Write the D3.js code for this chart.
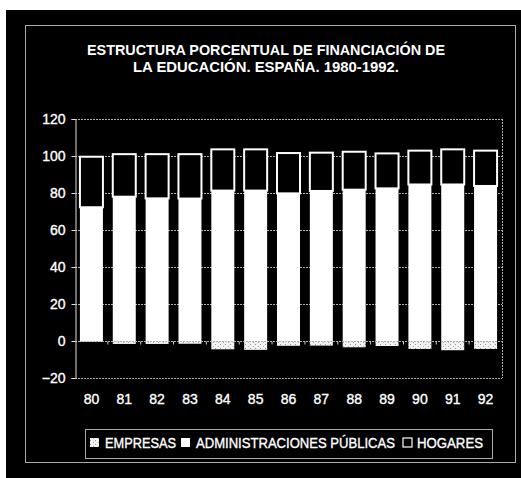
<!DOCTYPE html>
<html>
<head>
<meta charset="utf-8">
<script src="https://cdn.jsdelivr.net/npm/d3@7/dist/d3.min.js"></script>
<style>
  html, body { margin: 0; padding: 0; background: #fff; }
  svg { display: block; }
  text { font-family: "Liberation Sans", Arial, sans-serif; fill: #fff; }
  .thick { stroke: #fff; stroke-width: 0.35px; }
</style>
</head>
<body>
<div id="chart"></div>
<script>
// Años (eje X) y series en porcentaje
const years = ['80', '81', '82', '83', '84', '85', '86', '87', '88', '89', '90', '91', '92'];
const empresas = [-0.5, -1.6, -1.6, -1.5, -4.5, -4.8, -2.6, -2.5, -3.4, -2.7, -4.3, -5.0, -4.3];
const administraciones = [72.3, 78.0, 77.1, 77.0, 81.3, 81.3, 79.8, 81.1, 81.8, 82.5, 84.6, 84.6, 83.8];
const hogares = [27.3, 23.0, 23.9, 24.0, 22.3, 22.3, 21.8, 20.7, 20.5, 18.9, 18.3, 19.0, 19.1];
const yTicks = [-20, 0, 20, 40, 60, 80, 100, 120];
const seriesNames = ['EMPRESAS', 'ADMINISTRACIONES PÚBLICAS', 'HOGARES'];
const titleLines = ['ESTRUCTURA PORCENTUAL DE FINANCIACIÓN DE', 'LA EDUCACIÓN. ESPAÑA. 1980-1992.'];

const W = 521, H = 478;
const plot = { left: 75, right: 502, top: 119, bottom: 378 };

const svg = d3.select('#chart').append('svg')
  .attr('width', W)
  .attr('height', H);

// motivo punteado para EMPRESAS
const defs = svg.append('defs');
const pat = defs.append('pattern')
  .attr('id', 'dots')
  .attr('width', 5).attr('height', 4)
  .attr('patternUnits', 'userSpaceOnUse');
pat.append('rect').attr('width', 5).attr('height', 4).attr('fill', '#f2f2f2');
pat.append('rect').attr('x', 0).attr('y', 0).attr('width', 1).attr('height', 1).attr('fill', '#999');
pat.append('rect').attr('x', 3).attr('y', 2).attr('width', 1).attr('height', 1).attr('fill', '#aaa');

// fondo negro y marco
svg.append('rect')
  .attr('x', 6).attr('y', 10)
  .attr('width', W - 6).attr('height', H - 10)
  .attr('fill', '#000');

svg.append('rect')
  .attr('x', 25.5).attr('y', 25.5)
  .attr('width', 490).attr('height', 437)
  .attr('fill', 'none')
  .attr('stroke', '#aaa')
  .attr('stroke-width', 1);

// título
const titleWidths = [358, 266];
svg.append('g')
  .selectAll('text')
  .data(titleLines)
  .join('text')
  .attr('x', 266)
  .attr('y', (d, i) => 55 + i * 17)
  .attr('text-anchor', 'middle')
  .attr('font-size', 15.5)
  .attr('font-weight', 'bold')
  .attr('textLength', (d, i) => titleWidths[i])
  .attr('lengthAdjust', 'spacingAndGlyphs')
  .text(d => d);

// escalas
const x = d3.scaleBand()
  .domain(years)
  .range([plot.left, plot.right])
  .paddingInner(0.3)
  .paddingOuter(0.15);

const y = d3.scaleLinear()
  .domain([-20, 120])
  .range([plot.bottom, plot.top]);

// cuadrícula punteada
const grid = svg.append('g');
grid.selectAll('line')
  .data(yTicks.filter(d => d !== -20 && d !== 0))
  .join('line')
  .attr('x1', plot.left).attr('x2', plot.right)
  .attr('y1', d => Math.round(y(d)) + 0.5)
  .attr('y2', d => Math.round(y(d)) + 0.5)
  .attr('stroke', '#b0b0b0')
  .attr('stroke-width', 1)
  .attr('stroke-dasharray', '2,1');

// borde derecho e inferior del área de trazado
grid.append('line')
  .attr('x1', plot.right + 0.5).attr('x2', plot.right + 0.5)
  .attr('y1', y(120)).attr('y2', y(-20))
  .attr('stroke', '#b0b0b0')
  .attr('stroke-dasharray', '2,1');
grid.append('line')
  .attr('x1', plot.left).attr('x2', plot.right)
  .attr('y1', Math.round(y(-20)) + 0.5).attr('y2', Math.round(y(-20)) + 0.5)
  .attr('stroke', '#b0b0b0')
  .attr('stroke-dasharray', '2,1');

// datos apilados
const rows = years.map((yr, i) => ({
  year: yr,
  EMPRESAS: empresas[i],
  'ADMINISTRACIONES PÚBLICAS': administraciones[i],
  HOGARES: hogares[i]
}));

const stack = d3.stack()
  .keys(seriesNames)
  .offset(d3.stackOffsetDiverging);
const series = stack(rows);

const fills = {
  'EMPRESAS': 'url(#dots)',
  'ADMINISTRACIONES PÚBLICAS': '#fff',
  'HOGARES': '#000'
};

svg.append('g')
  .selectAll('g')
  .data(series)
  .join('g')
  .attr('fill', d => fills[d.key])
  .attr('stroke', d => d.key === 'HOGARES' ? '#fff' : 'none')
  .attr('stroke-width', 2)
  .selectAll('rect')
  .data(d => d)
  .join('rect')
  .attr('x', d => x(d.data.year))
  .attr('y', d => y(d[1]))
  .attr('width', x.bandwidth())
  .attr('height', d => y(d[0]) - y(d[1]));

// eje X en el cero con marcas entre categorías
const zeroY = Math.round(y(0)) + 0.5;
svg.append('line')
  .attr('x1', plot.left).attr('x2', plot.right)
  .attr('y1', zeroY).attr('y2', zeroY)
  .attr('stroke', '#b0b0b0')
  .attr('stroke-dasharray', '2,1');
svg.append('g')
  .selectAll('line')
  .data(years.slice(1))
  .join('line')
  .attr('x1', d => x(d) - x.step() * x.paddingInner() / 2)
  .attr('x2', d => x(d) - x.step() * x.paddingInner() / 2)
  .attr('y1', zeroY).attr('y2', zeroY + 3)
  .attr('stroke', '#ccc');

// eje Y
const yAxis = svg.append('g')
  .attr('transform', `translate(${plot.left + 0.5},0)`)
  .call(d3.axisLeft(y).tickValues(yTicks).tickSize(4).tickPadding(6).tickFormat(d3.format('d')));
yAxis.select('.domain').attr('stroke', '#ddd');
yAxis.selectAll('.tick line').attr('stroke', '#ddd');
yAxis.selectAll('.tick text')
  .attr('class', 'thick')
  .attr('font-size', 14)
  .attr('fill', '#fff')
  .style('font-family', '"Liberation Sans", Arial, sans-serif');

// etiquetas de años
svg.append('g')
  .selectAll('text')
  .data(years)
  .join('text')
  .attr('class', 'thick')
  .attr('x', d => x(d) + x.bandwidth() / 2)
  .attr('y', 404)
  .attr('text-anchor', 'middle')
  .attr('font-size', 14)
  .text(d => d);

// leyenda
svg.append('rect')
  .attr('x', 85.5).attr('y', 429.5)
  .attr('width', 407).attr('height', 29)
  .attr('fill', 'none')
  .attr('stroke', '#aaa');

const legendItems = [
  { name: seriesNames[0], sx: 90, tx: 105, tw: 71 },
  { name: seriesNames[1], sx: 181, tx: 196, tw: 199 },
  { name: seriesNames[2], sx: 403, tx: 417, tw: 66 }
];
const lg = svg.append('g')
  .selectAll('g')
  .data(legendItems)
  .join('g');
lg.append('rect')
  .attr('x', d => d.sx)
  .attr('y', 438)
  .attr('width', 9).attr('height', 9)
  .attr('fill', d => fills[d.name])
  .attr('stroke', d => d.name === 'HOGARES' ? '#fff' : 'none')
  .attr('stroke-width', 1.2);
lg.append('text')
  .attr('class', 'thick')
  .attr('x', d => d.tx)
  .attr('y', 447.5)
  .attr('font-size', 14)
  .attr('textLength', d => d.tw)
  .attr('lengthAdjust', 'spacingAndGlyphs')
  .text(d => d.name);
</script>
</body>
</html>
